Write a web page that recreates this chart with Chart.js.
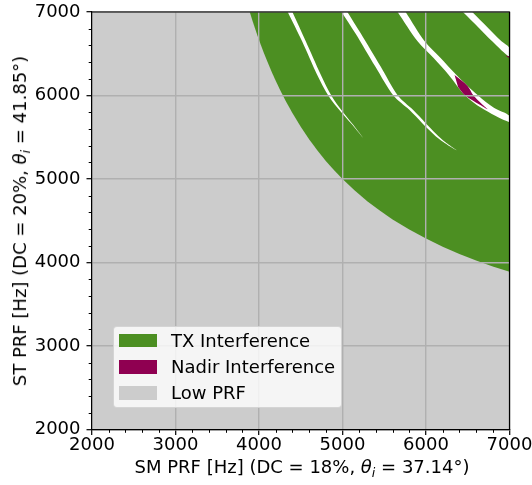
<!DOCTYPE html>
<html>
<head>
<meta charset="utf-8">
<script src="https://cdn.jsdelivr.net/npm/chart.js@4.4.1/dist/chart.umd.min.js"></script>
<style>
  html, body { margin: 0; padding: 0; background: #fff; }
  #wrap { position: relative; width: 532px; height: 485px; font-family: "DejaVu Sans", sans-serif; color: #000; }
  #chart { position: absolute; left: 0; top: 0; }
  .title { position: absolute; font-size: 18px; white-space: nowrap; line-height: 1; }
  .sub { font-size: 70%; position: relative; top: 0.3em; font-style: italic; }
  #xTitle { left: 302px; top: 467px; transform: translate(-50%, -50%); }
  #yTitle { left: 20px; top: 221px; transform: translate(-50%, -50%) rotate(-90deg); }
  #legend { position: absolute; left: 113px; top: 326px; width: 227px; height: 80px;
            background: rgba(255,255,255,0.8); border: 1px solid rgba(204,204,204,0.8); border-radius: 4px; }
  .row { position: absolute; left: 5px; height: 20px; display: flex; align-items: center; font-size: 18px; }
  .swatch { width: 38px; height: 13.5px; margin-right: 14px; }
</style>
</head>
<body>
<div id="wrap">
  <canvas id="chart" width="532" height="485"></canvas>
  <div id="xTitle" class="title">SM PRF [Hz] (DC = 18%, <i>θ</i><span class="sub">i</span> = 37.14°)</div>
  <div id="yTitle" class="title">ST PRF [Hz] (DC = 20%, <i>θ</i><span class="sub">i</span> = 41.85°)</div>
  <div id="legend"></div>
</div>
<script>
// ---------------------------------------------
// Data
// ---------------------------------------------
const tickValues = [2000, 3000, 4000, 5000, 6000, 7000];
const minorTickValues = [2200, 2400, 2600, 2800, 3200, 3400, 3600, 3800, 4200, 4400, 4600, 4800,
                         5200, 5400, 5600, 5800, 6200, 6400, 6600, 6800];

// lower boundary of the TX interference zone
const boundaryX = [3889, 3920, 3950, 3980, 4020, 4060, 4100, 4150, 4200, 4250, 4320, 4400, 4500, 4600, 4700,
                   4800, 4900, 5000, 5150, 5300, 5450, 5600, 5800, 6000, 6200, 6400, 6600, 6800, 7000];
const boundaryY = [7000, 6901, 6810, 6723, 6612, 6506, 6406, 6288, 6176, 6071, 5934, 5789, 5625, 5476, 5341,
                   5217, 5104, 5000, 4858, 4732, 4619, 4516, 4394, 4286, 4189, 4103, 4024, 3953, 3889];

// white gaps inside the TX zone: right edge then left edge
const gap1Right = [[4400, 7000], [4560, 6650], [4740, 6250], [4871, 5992], [4998, 5812], [5126, 5652], [5245, 5493]];
const gap1Left  = [[4344, 7000], [4516, 6650], [4696, 6250], [4835, 5992], [4975, 5812], [5115, 5652]];
const gap2Right = [[5058, 7000], [5218, 6745], [5457, 6346], [5662, 5999], [5844, 5828], [5996, 5669], [6196, 5469], [6370, 5341]];
const gap2Left  = [[4987, 7000], [5154, 6745], [5393, 6346], [5609, 5999], [5800, 5828], [5955, 5669], [6169, 5469]];
const gap3Right = [[5756, 7000], [5984, 6650], [6175, 6450], [6362, 6250], [6625, 5999], [6813, 5852], [7000, 5756]];
const gap3Left  = [[5660, 7000], [5899, 6650], [6091, 6450], [6270, 6250], [6470, 5999], [6661, 5852], [7000, 5680]];
const gap4Right = [[6553, 7000], [6744, 6809], [6904, 6650], [7000, 6570]];
const gap4Left  = [[6442, 7000], [6634, 6809], [6793, 6650], [7000, 6466]];

// nadir interference slivers
const nadir1 = [[6342, 6246], [6498, 6115], [6569, 5999], [6665, 5900], [6737, 5834], [6645, 5888], [6470, 5999], [6384, 6103]];
const nadir2 = [[6950, 6478], [7000, 6466], [7000, 6446]];

const legendLabels = ['TX Interference', 'Nadir Interference', 'Low PRF'];
const legendColors = ['#4c8f22', '#8f0051', '#cccccc'];

// ---------------------------------------------
// Build polygons
// ---------------------------------------------
const pts = arr => arr.map(p => ({ x: p[0], y: p[1] }));
const gap = (right, left) => pts(right.concat(left.slice().reverse()));

const lowPrf = pts([[2000, 2000], [2000, 7000], [7000, 7000], [7000, 2000]]);
const txZone = boundaryX.map((x, i) => ({ x: x, y: boundaryY[i] })).concat([{ x: 7000, y: 7000 }]);

function region(label, data, color, order, tension) {
    return { label: label, data: data, backgroundColor: color, borderColor: 'rgba(0,0,0,0)',
             borderWidth: 0, pointRadius: 0, fill: 'shape', order: order, tension: tension || 0 };
}

const datasets = [
    region('Low PRF', lowPrf, legendColors[2], 10),
    region('TX Interference', txZone, legendColors[0], 9),
    region('gap1', gap(gap1Right, gap1Left), '#ffffff', 8, 0.3),
    region('gap2', gap(gap2Right, gap2Left), '#ffffff', 7, 0.3),
    region('gap3', gap(gap3Right, gap3Left), '#ffffff', 6, 0.3),
    region('gap4', gap(gap4Right, gap4Left), '#ffffff', 5, 0.3),
    region('Nadir Interference', pts(nadir1), legendColors[1], 4, 0.3),
    region('nadir2', pts(nadir2), legendColors[1], 3)
];

// ---------------------------------------------
// Frame + minor ticks
// ---------------------------------------------
const framePlugin = {
    id: 'frame',
    afterDraw(chart) {
        const { ctx, chartArea: a, scales } = chart;
        ctx.save();
        ctx.strokeStyle = '#000';
        ctx.lineWidth = 1.2;
        ctx.beginPath();
        ctx.moveTo(a.left, a.top);
        ctx.lineTo(a.right, a.top);
        ctx.lineTo(a.right, a.bottom);
        ctx.stroke();

        ctx.lineWidth = 1;
        ctx.beginPath();
        minorTickValues.forEach(v => {
            const px = Math.round(scales.x.getPixelForValue(v)) + 0.5;
            ctx.moveTo(px, a.bottom);
            ctx.lineTo(px, a.bottom + 3.3);
            const py = Math.round(scales.y.getPixelForValue(v)) + 0.5;
            ctx.moveTo(a.left, py);
            ctx.lineTo(a.left - 3.3, py);
        });
        ctx.stroke();
        ctx.restore();
    }
};

const tickFont = { family: 'DejaVu Sans', size: 18 };

function axis(fit) {
    return {
        type: 'linear', min: 2000, max: 7000,
        afterFit: s => {
            fit(s);
            s.paddingTop = 0; s.paddingBottom = 0;
            s.paddingLeft = 0; s.paddingRight = 0;
        },
        afterBuildTicks: s => { s.ticks = tickValues.map(v => ({ value: v })); },
        ticks: { color: '#000', font: tickFont, autoSkip: false, maxRotation: 0,
                 callback: v => String(v) },
        grid: { color: '#b0b0b0', lineWidth: 1.4, z: 1, tickColor: '#000', tickLength: 5.5, tickWidth: 1.2 },
        border: { color: '#000', width: 1.2, z: 2 }
    };
}

const xAxis = axis(s => { s.height = 55.5; });
xAxis.ticks.padding = 0;
const yAxis = axis(s => { s.width = 92; });
yAxis.ticks.padding = 6;

new Chart(document.getElementById('chart'), {
    type: 'line',
    data: { datasets: datasets },
    options: {
        responsive: false,
        animation: false,
        devicePixelRatio: 1,
        layout: { padding: { top: 12, right: 22.5, left: 0, bottom: 0 } },
        plugins: { legend: { display: false }, tooltip: { enabled: false } },
        scales: { x: xAxis, y: yAxis }
    },
    plugins: [framePlugin]
});

// ---------------------------------------------
// Legend (inside the axes, lower left)
// ---------------------------------------------
const legend = document.getElementById('legend');
const rowTops = [3.3, 29.9, 55.9];
legendLabels.forEach((label, i) => {
    const row = document.createElement('div');
    row.className = 'row';
    row.style.top = rowTops[i] + 'px';
    row.innerHTML = '<span class="swatch" style="background:' + legendColors[i] + '"></span>' + label;
    legend.appendChild(row);
});
</script>
</body>
</html>
